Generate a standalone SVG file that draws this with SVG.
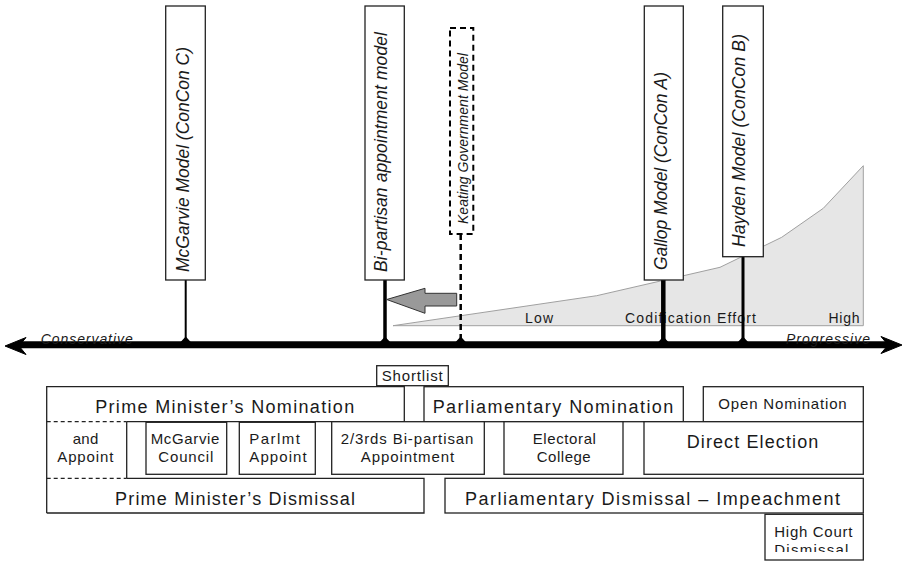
<svg xmlns="http://www.w3.org/2000/svg" width="906" height="563" viewBox="0 0 906 563">
<style>
text{font-family:"Liberation Sans",Arial,sans-serif;fill:#1a1a1a}
.vl{font-size:17.5px;font-style:italic}
.ax{font-size:14px;font-style:italic}
.ce{font-size:14px}
.box{fill:#fff;stroke:#222;stroke-width:1.3}
.ln{fill:none;stroke:#222;stroke-width:1.3}
.dl{fill:none;stroke:#222;stroke-width:1.3;stroke-dasharray:4,3}
.big{font-size:18px;text-anchor:middle}
.med{font-size:15px;text-anchor:middle}
.stem{stroke:#000;fill:none}
</style>
<defs>
<clipPath id="hc"><rect x="765" y="514" width="99" height="38"/></clipPath>
</defs>
<rect width="906" height="563" fill="#fff"/>

<g id="effort">
<polygon points="393,325.7 596.7,295.7 720,267.3 781.7,237.3 823.3,208.3 863.3,165.7 863.3,325.7" fill="#e6e6e6" stroke="#a0a0a0" stroke-width="1"/>
<text class="ce" x="525" y="323" textLength="28">Low</text>
<text class="ce" x="625" y="323" textLength="131">Codification Effort</text>
<text class="ce" x="828.5" y="323" textLength="31">High</text>
</g>

<g id="connectors">
<line class="stem" x1="185.7" y1="280" x2="185.7" y2="345" stroke-width="2"/>
<line class="stem" x1="385" y1="280" x2="385" y2="345" stroke-width="3.5"/>
<line class="stem" x1="460.7" y1="234" x2="460.7" y2="345" stroke-width="2.5" stroke-dasharray="6,4"/>
<line class="stem" x1="663.3" y1="280" x2="663.3" y2="345" stroke-width="4.5"/>
<line class="stem" x1="743" y1="256.7" x2="743" y2="345" stroke-width="3"/>
<path d="M179.7,343 L185.7,336.5 L191.7,343 Z M379,343 L385,336.5 L391,343 Z M454.7,343 L460.7,336.5 L466.7,343 Z M657.3,343 L663.3,336.5 L669.3,343 Z M737,343 L743,336.5 L749,343 Z" fill="#000"/>
<polygon points="386.7,299.5 425,288.3 425,293.3 456.7,293.3 456.7,306 425,306 425,313.3" fill="#999" stroke="#333" stroke-width="1"/>
</g>

<g id="axis">
<line x1="18" y1="344.8" x2="890" y2="344.8" stroke="#000" stroke-width="7"/>
<path d="M5,346 L26,337.5 L19,346 L26,354.5 Z" fill="#000" stroke="#000" stroke-width="1" stroke-linejoin="miter"/>
<path d="M902,345 L881,336.5 L888,345 L881,353.5 Z" fill="#000" stroke="#000" stroke-width="1"/>
<text class="ax" x="40.7" y="344" textLength="92">Conservative</text>
<text class="ax" x="786" y="344" textLength="84">Progressive</text>
</g>

<g id="mcgarvie-model">
<rect class="box" x="165.7" y="6" width="39.6" height="274"/>
<text class="vl" transform="translate(188.5,272) rotate(-90)" textLength="225">McGarvie Model (ConCon C)</text>
</g>
<g id="bipartisan-model">
<rect class="box" x="365" y="6" width="39.3" height="274"/>
<text class="vl" transform="translate(387,272) rotate(-90)" textLength="240">Bi-partisan appointment model</text>
</g>
<g id="keating-model">
<rect x="450" y="28" width="23.3" height="206" fill="#fff" stroke="#000" stroke-width="2" stroke-dasharray="6,4"/>
<text transform="translate(467.5,224) rotate(-90)" style="font-size:14px;font-style:italic" textLength="171">Keating Government Model</text>
</g>
<g id="gallop-model">
<rect class="box" x="644.3" y="6" width="39" height="274"/>
<text class="vl" transform="translate(667,270) rotate(-90)" textLength="198">Gallop Model (ConCon A)</text>
</g>
<g id="hayden-model">
<rect class="box" x="722.7" y="6" width="40.6" height="250.7"/>
<text class="vl" transform="translate(745,247) rotate(-90)" textLength="213">Hayden Model (ConCon B)</text>
</g>

<g id="pm-nomination">
<path class="ln" d="M126.7,421.7 L404.3,421.7 L404.3,386.7 L46.7,386.7 L46.7,513"/>
<line class="dl" x1="46.7" y1="421.7" x2="126.7" y2="421.7"/>
<text class="big" x="224.7" y="413.3" textLength="259">Prime Minister’s Nomination</text>
</g>
<g id="shortlist">
<rect class="box" x="376.7" y="365.7" width="71.6" height="20"/>
<text x="412.2" y="381" style="font-size:15px;text-anchor:middle" textLength="61">Shortlist</text>
</g>
<g id="parl-nomination">
<rect class="box" x="424" y="386.7" width="259.3" height="35"/>
<text class="big" x="553" y="413.3" textLength="240.7">Parliamentary Nomination</text>
</g>
<g id="open-nomination">
<rect class="box" x="703.3" y="386.7" width="160" height="35"/>
<text x="782.5" y="409.3" style="font-size:15px;text-anchor:middle" textLength="128.3">Open Nomination</text>
</g>
<g id="and-appoint">
<line class="ln" x1="126.7" y1="421.7" x2="126.7" y2="478.3"/>
<text class="med" x="85.5" y="444" textLength="25.7">and</text>
<text class="med" x="85.3" y="461.7" textLength="56">Appoint</text>
</g>
<g id="mcgarvie-council">
<rect class="box" x="146" y="422.3" width="80.7" height="52"/>
<text class="med" x="185" y="444" textLength="68.7">McGarvie</text>
<text class="med" x="185.8" y="461.7" textLength="55">Council</text>
</g>
<g id="parlmt-appoint">
<rect class="box" x="239.3" y="422.3" width="76" height="52"/>
<text class="med" x="274.6" y="444" textLength="50.7">Parlmt</text>
<text class="med" x="278" y="461.7" textLength="57.3">Appoint</text>
</g>
<g id="bipartisan-appointment">
<rect class="box" x="331.7" y="421.7" width="152.6" height="52.6"/>
<text class="med" x="407" y="444" textLength="132.7">2/3rds Bi-partisan</text>
<text class="med" x="407.4" y="461.7" textLength="93.3">Appointment</text>
</g>
<g id="electoral-college">
<rect class="box" x="504" y="421.7" width="119" height="52.6"/>
<text class="med" x="564.3" y="444" textLength="63.3">Electoral</text>
<text class="med" x="563.7" y="461.7" textLength="54">College</text>
</g>
<g id="direct-election">
<rect class="box" x="644" y="421.7" width="219.3" height="52.6"/>
<text class="big" x="752.5" y="448.3" textLength="131.7">Direct Election</text>
</g>
<g id="pm-dismissal">
<path class="ln" d="M126.7,478.3 L424,478.3 L424,513 L46.7,513"/>
<line class="dl" x1="46.7" y1="478.3" x2="126.7" y2="478.3"/>
<text class="big" x="235" y="505" textLength="240">Prime Minister’s Dismissal</text>
</g>
<g id="parl-dismissal">
<rect class="box" x="445" y="478.3" width="418.3" height="34.7"/>
<text class="big" x="652.5" y="505" textLength="375">Parliamentary Dismissal – Impeachment</text>
</g>
<g id="high-court-dismissal">
<rect class="box" x="765" y="514.3" width="98.3" height="45.7"/>
<text class="med" x="813.3" y="536.7" textLength="78">High Court</text>
<text class="med" x="811.3" y="554.5" textLength="74" clip-path="url(#hc)">Dismissal</text>
</g>
</svg>
